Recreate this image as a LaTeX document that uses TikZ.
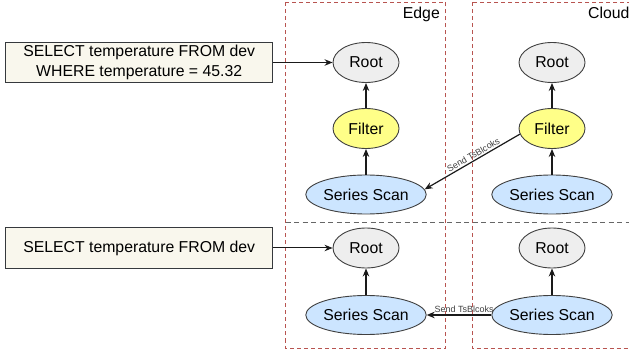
\documentclass[tikz,border=0pt]{standalone}
\usepackage{fontspec}
\setmainfont{Liberation Sans}
\usepackage{tikz}
\usetikzlibrary{arrows.meta,shapes.geometric}
\definecolor{opline}{HTML}{404040}
\definecolor{rootfill}{HTML}{EEEEEE}
\definecolor{filterfill}{HTML}{FFFF88}
\definecolor{scanfill}{HTML}{CCE5FF}
\definecolor{queryfill}{HTML}{F9F7ED}
\definecolor{queryline}{HTML}{36393D}
\definecolor{zoneline}{HTML}{B85450}
\definecolor{splitline}{HTML}{666666}
\definecolor{flowline}{HTML}{1A1A1A}
\tikzset{node distance=66pt, auto, >={Stealth[length=8pt,width=6.5pt]}}
\tikzset{
	op/.style={ellipse, draw=opline, line width=0.9pt, inner sep=0pt, minimum width=66pt, minimum height=40pt, font=\fontsize{15.8}{18}\selectfont},
	rootop/.style={op, fill=rootfill},
	filterop/.style={op, fill=filterfill},
	scanop/.style={op, fill=scanfill, minimum width=106pt, minimum height=39pt},
	query/.style={rectangle, draw=queryline, fill=queryfill, line width=1pt, minimum width=267pt, minimum height=40.5pt, inner sep=0pt, align=center, font=\fontsize{15.8}{19.5}\selectfont},
	flow/.style={->, line width=1.2pt, draw=flowline},
	send/.style={font=\fontsize{9}{10}\selectfont, text=opline, inner sep=1.5pt},
	zone/.style={draw=zoneline, dash pattern=on 4pt off 3pt, line width=0.9pt},
	split/.style={draw=splitline, dash pattern=on 5pt off 3.5pt, line width=0.9pt},
	place/.style={inner sep=0pt, font=\fontsize{15.8}{18}\selectfont}
}
\begin{document}
\begin{tikzpicture}[x=1pt, y=-1pt]
		\clip (0,0) rectangle (629,355);
		\draw[zone] (285.5,2.5) rectangle (445.5,348);
		\draw[zone] (472,2.5) rectangle (640,348);
		\draw[split] (285.5,222) -- (640,222);
		\node(EL)[place, anchor=base east] at (440,18.3){Edge};
		\node(CL)[place, anchor=base west] at (588,18.3){Cloud};
		\node(Q1)[query] at (139.2,62.5){SELECT temperature FROM dev\\WHERE temperature = 45.32};
		\node(Q2)[query] at (139.2,248){SELECT temperature FROM dev};
		\node(R1)[rootop] at (366,62.5){Root};
		\node(F1)[filterop, below of=R1]{Filter};
		\node(S1)[scanop, below of=F1]{Series Scan};
		\node(R2)[rootop] at (552,62.5){Root};
		\node(F2)[filterop, below of=R2]{Filter};
		\node(S2)[scanop, below of=F2]{Series Scan};
		\node(R3)[rootop] at (366,248){Root};
		\node(S3)[scanop, below of=R3, yshift=-1pt]{Series Scan};
		\node(R4)[rootop] at (552,248){Root};
		\node(S4)[scanop, below of=R4, yshift=-1pt]{Series Scan};
		\draw[flow, line width=1pt](Q1) to (R1);
		\draw[flow, line width=1pt](Q2) to (R3);
		\draw[flow](F1) to (R1);
		\draw[flow](S1) to (F1);
		\draw[flow](F2) to (R2);
		\draw[flow](S2) to (F2);
		\draw[flow](S3) to (R3);
		\draw[flow](S4) to (R4);
		\draw[flow, <-](S1.5) to node[send, sloped, pos=0.54, above]{Send TsBlcoks}(F2.190);
		\draw[flow](S4) to node[send, pos=0.42, anchor=south]{Send TsBlcoks}(S3);
	\end{tikzpicture}
\end{document}
